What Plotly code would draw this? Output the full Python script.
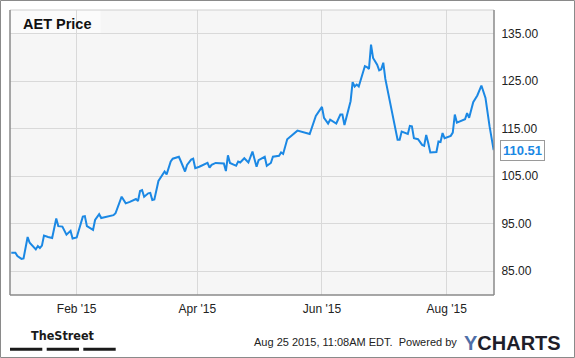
import plotly.graph_objects as go

# ---- data ----
dates = [
    "2014-12-31", "2015-01-02", "2015-01-03", "2015-01-05", "2015-01-06", "2015-01-08",
    "2015-01-09", "2015-01-12", "2015-01-13", "2015-01-14", "2015-01-15", "2015-01-16",
    "2015-01-18", "2015-01-20", "2015-01-22", "2015-01-23", "2015-01-25", "2015-01-27",
    "2015-01-29", "2015-01-30", "2015-02-01", "2015-02-04", "2015-02-05", "2015-02-06",
    "2015-02-09", "2015-02-10", "2015-02-12", "2015-02-13", "2015-02-19", "2015-02-20",
    "2015-02-23", "2015-02-25", "2015-02-27",
    "2015-03-02", "2015-03-03", "2015-03-04", "2015-03-05", "2015-03-06", "2015-03-08",
    "2015-03-09", "2015-03-10", "2015-03-11", "2015-03-13", "2015-03-15", "2015-03-16",
    "2015-03-17", "2015-03-19", "2015-03-20", "2015-03-23", "2015-03-24", "2015-03-26",
    "2015-03-27", "2015-03-29", "2015-03-30", "2015-03-31", "2015-04-02", "2015-04-06",
    "2015-04-07", "2015-04-08", "2015-04-10", "2015-04-14", "2015-04-15", "2015-04-16",
    "2015-04-17", "2015-04-20", "2015-04-21", "2015-04-22",
    "2015-04-24", "2015-04-26", "2015-04-28", "2015-04-29", "2015-04-30", "2015-05-01",
    "2015-05-04", "2015-05-05", "2015-05-07", "2015-05-08", "2015-05-11", "2015-05-12",
    "2015-05-13", "2015-05-15", "2015-05-20", "2015-05-26", "2015-05-29", "2015-06-01",
    "2015-06-02", "2015-06-04", "2015-06-05", "2015-06-08", "2015-06-10", "2015-06-11",
    "2015-06-12", "2015-06-15", "2015-06-16", "2015-06-17", "2015-06-18", "2015-06-19",
    "2015-06-22", "2015-06-23", "2015-06-24", "2015-06-25", "2015-06-26", "2015-06-28",
    "2015-06-29", "2015-06-30", "2015-07-01", "2015-07-02",
    "2015-07-08", "2015-07-09", "2015-07-10", "2015-07-13", "2015-07-14", "2015-07-15",
    "2015-07-16", "2015-07-18", "2015-07-20", "2015-07-21", "2015-07-22", "2015-07-23",
    "2015-07-24", "2015-07-27", "2015-07-28", "2015-07-29", "2015-07-30", "2015-07-31",
    "2015-08-03", "2015-08-04", "2015-08-05", "2015-08-06", "2015-08-10", "2015-08-11",
    "2015-08-12", "2015-08-14", "2015-08-16", "2015-08-18", "2015-08-20", "2015-08-22",
    "2015-08-24",
]
prices = [
    88.9, 88.9, 88.2, 87.6, 87.7, 92.2,
    91.0, 89.6, 90.3, 89.9, 90.4, 92.5,
    92.2, 92.0, 96.1, 94.5, 94.4, 92.7,
    93.5, 91.9, 92.1, 96.5, 96.6, 94.5,
    93.7, 95.8, 97.0, 96.2, 96.8, 97.2,
    100.7, 99.3, 99.6,
    100.2, 99.8, 101.9, 102.1, 100.7, 101.4,
    101.5, 100.0, 100.1, 104.0, 105.3, 106.0,
    105.4, 108.1, 108.7, 109.1, 108.1, 106.0,
    107.4, 108.5, 108.7, 106.7, 107.0, 107.8,
    106.8, 107.4, 107.8, 107.7, 106.1, 109.4,
    107.8, 107.2, 108.1, 107.9,
    108.8, 107.9, 110.2, 108.8, 107.0, 108.4,
    109.1, 107.2, 107.8, 109.1, 109.3, 110.0,
    109.7, 112.8, 114.6, 113.9, 117.7, 119.6,
    117.3, 116.1, 116.9, 116.1, 118.0, 118.0,
    115.8, 120.8, 124.8, 123.9, 124.3, 123.9,
    128.2, 128.0, 127.6, 132.7, 129.9, 128.5,
    127.3, 127.5, 128.9, 125.5,
    112.7, 112.7, 114.4, 113.9, 115.6, 115.5,
    113.0, 112.8, 111.6, 111.4, 113.7, 112.0,
    110.0, 110.1, 112.3, 112.2, 114.1, 113.0,
    113.5, 114.2, 118.0, 116.3, 117.0, 118.3,
    117.3, 120.6, 122.0, 124.1, 121.5, 115.5,
    110.51,
]
x_tick_dates = ["2015-02-01", "2015-04-01", "2015-06-01", "2015-08-01"]
x_tick_labels = ["Feb '15", "Apr '15", "Jun '15", "Aug '15"]
y_tick_values = [85, 95, 105, 115, 125, 135]
title_text = "AET Price"
footer_text = "Aug 25 2015, 11:08AM EDT.  Powered by"

FONT = "Arial, 'Liberation Sans', sans-serif"
BLUE = "#1b88e4"

fig = go.Figure()
fig.add_trace(go.Scatter(
    x=dates, y=prices, mode="lines",
    line=dict(color=BLUE, width=2), hoverinfo="skip", showlegend=False,
))

# plot area geometry (pixels): left 10, right 494, top 10, bottom 295
W, H = 575, 358
L, R, T, B = 10, 494, 10, 295
def px(x):
    return (x - L) / (R - L)
def py(y):
    return (B - y) / (B - T)

shapes = []
# outer image border
shapes.append(dict(type="rect", xref="paper", yref="paper",
                   x0=px(0.5), x1=px(574.5), y0=py(357.5), y1=py(0.5),
                   line=dict(color="#8a8a8a", width=1), fillcolor="rgba(0,0,0,0)",
                   layer="below"))
# title box
shapes.append(dict(type="rect", xref="paper", yref="paper",
                   x0=0, x1=px(100.7), y0=py(34.3), y1=1,
                   line=dict(width=0), fillcolor="#fbfbfb", layer="below"))
# plot frame: top light, others dark
shapes.append(dict(type="line", xref="paper", yref="paper", x0=0, x1=1, y0=1, y1=1,
                   line=dict(color="#cfcfcf", width=1)))
shapes.append(dict(type="line", xref="paper", yref="paper", x0=0, x1=0, y0=0, y1=1,
                   line=dict(color="#8a8a8a", width=1.5)))
shapes.append(dict(type="line", xref="paper", yref="paper", x0=1, x1=1, y0=0, y1=1,
                   line=dict(color="#8a8a8a", width=1.5)))
shapes.append(dict(type="line", xref="paper", yref="paper", x0=0, x1=1, y0=0, y1=0,
                   line=dict(color="#8a8a8a", width=1.5)))
# TheStreet underline bars
for a, b in [(10, 42.3), (46.7, 79), (83.3, 115.7)]:
    shapes.append(dict(type="rect", xref="paper", yref="paper",
                       x0=px(a), x1=px(b), y0=py(350.7), y1=py(347.7),
                       line=dict(width=0), fillcolor="#1a1a1a"))
# last-value pointer triangle
shapes.append(dict(type="path", xref="x", yref="y",
                   xsizemode="pixel", ysizemode="pixel",
                   xanchor=dates[-1], yanchor=prices[-1],
                   path="M 0,0 L 6,-5 L 6,5 Z",
                   fillcolor="white", line=dict(color="#9a9a9a", width=1)))

annotations = [
    dict(text="<b>%s</b>" % title_text, xref="paper", yref="paper",
         x=px(20.7), y=py(24), xanchor="left", yanchor="middle", showarrow=False,
         font=dict(family=FONT, size=14.5, color="#111")),
    dict(text="<b>%.2f</b>" % prices[-1], xref="x", yref="y",
         x=dates[-1], y=prices[-1], xanchor="left", yanchor="middle",
         xshift=6, showarrow=False, bgcolor="white", bordercolor="#9a9a9a",
         borderwidth=1, borderpad=2,
         font=dict(family=FONT, size=13, color=BLUE)),
    dict(text="<b>TheStreet</b>", xref="paper", yref="paper",
         x=px(63.3), y=py(335), xanchor="center", yanchor="middle", showarrow=False,
         font=dict(family="'Liberation Sans Narrow', 'DejaVu Sans Condensed', Arial Narrow, Arial",
                   size=12.5, color="#1a1a1a")),
    dict(text=footer_text, xref="paper", yref="paper",
         x=px(459), y=py(342), xanchor="right", yanchor="middle", showarrow=False,
         font=dict(family=FONT, size=11, color="#222")),
    dict(text="<b><span style='color:#4f6fa8'>Y</span>CHARTS</b>", xref="paper", yref="paper",
         x=px(462), y=py(342.5), xanchor="left", yanchor="middle", showarrow=False,
         font=dict(family=FONT, size=20, color="#1e1e2a")),
]

fig.update_layout(
    width=W, height=H,
    margin=dict(l=L, r=W - R, t=T, b=H - B, pad=0),
    paper_bgcolor="white", plot_bgcolor="#f6f6f6",
    font=dict(family=FONT, size=12, color="#222"),
    showlegend=False,
    shapes=shapes, annotations=annotations,
    xaxis=dict(
        type="date", range=["2014-12-30 09:00", "2015-08-24 04:00"],
        tickvals=x_tick_dates, ticktext=x_tick_labels,
        showgrid=True, gridcolor="#d9d9d9", gridwidth=1,
        ticks="outside", ticklen=3, tickcolor="rgba(0,0,0,0)",
        zeroline=False, showline=False, fixedrange=True,
        tickfont=dict(family=FONT, size=12, color="#222"),
    ),
    yaxis=dict(
        side="right", range=[80, 140],
        tickvals=y_tick_values, tickformat=".2f",
        showgrid=True, gridcolor="#d9d9d9", gridwidth=1,
        ticks="outside", ticklen=4, tickcolor="rgba(0,0,0,0)",
        zeroline=False, showline=False, fixedrange=True,
        tickfont=dict(family=FONT, size=12, color="#222"),
    ),
)

fig.write_html("out.html", config={"displayModeBar": False})
